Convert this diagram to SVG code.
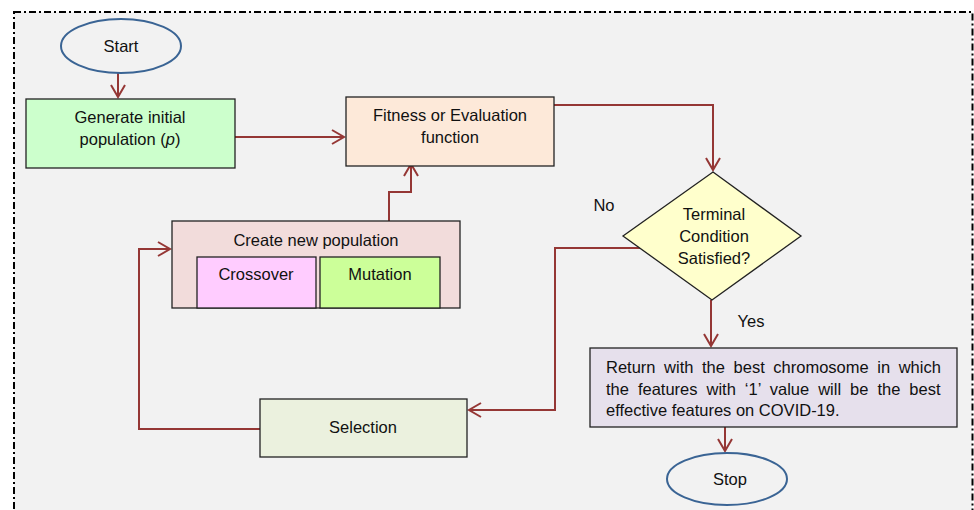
<svg xmlns="http://www.w3.org/2000/svg" width="974" height="510" viewBox="0 0 974 510">
<style>
text{font-family:"Liberation Sans",Arial,sans-serif;font-size:16.5px;fill:#111;text-anchor:middle}
.box{stroke:#222;stroke-width:1.3}
.conn{fill:none;stroke:#953735;stroke-width:2}
.oval{fill:#f2f2f2;stroke:#3a6494;stroke-width:2}
</style>
<defs>
<marker id="arr" markerUnits="userSpaceOnUse" markerWidth="16" markerHeight="18" refX="13" refY="8" orient="auto">
<path d="M1,1 L13,8 L1,15" fill="none" stroke="#953735" stroke-width="2"/>
</marker>
</defs>
<rect x="0" y="0" width="974" height="510" fill="#fff"/>
<rect x="14" y="12" width="958.5" height="520" fill="#f2f2f2" stroke="#000" stroke-width="2" stroke-dasharray="7 3 2 3"/>
<g id="connectors">
<path class="conn" d="M118,73 V97" marker-end="url(#arr)"/>
<path class="conn" d="M235,137 H344" marker-end="url(#arr)"/>
<path class="conn" d="M554,105 H713 V170" marker-end="url(#arr)"/>
<path class="conn" d="M389,221 V192 H411 V164" marker-end="url(#arr)"/>
<path class="conn" d="M640,248 H555 V410 H469" marker-end="url(#arr)"/>
<path class="conn" d="M260,429 H139 V249 H170" marker-end="url(#arr)"/>
<path class="conn" d="M711,300 V346" marker-end="url(#arr)"/>
<path class="conn" d="M725,427 V451" marker-end="url(#arr)"/>
</g>
<g id="start">
<ellipse class="oval" cx="121" cy="46" rx="60" ry="27"/>
<text x="121" y="52">Start</text>
</g>
<g id="generate">
<rect class="box" x="26" y="99" width="209" height="69" fill="#ccffcc"/>
<text x="130" y="123">Generate initial</text>
<text x="130" y="145">population (<tspan font-style="italic">p</tspan>)</text>
</g>
<g id="fitness">
<rect class="box" x="346" y="97" width="208" height="69" fill="#fde9d9"/>
<text x="450" y="121">Fitness or Evaluation</text>
<text x="450" y="143">function</text>
</g>
<g id="decision">
<polygon class="box" points="713,172 801,236 712,300 623,236" fill="#ffffcc"/>
<text x="714" y="220">Terminal</text>
<text x="714" y="242">Condition</text>
<text x="714" y="264">Satisfied?</text>
</g>
<g id="label-no"><text x="604" y="211">No</text></g>
<g id="label-yes"><text x="751" y="327">Yes</text></g>
<g id="create">
<rect class="box" x="172" y="221" width="288" height="87" fill="#f2dcdb"/>
<text x="316" y="246">Create new population</text>
</g>
<g id="crossover">
<rect class="box" x="197" y="257" width="119" height="51" fill="#ffccff"/>
<text x="256" y="280">Crossover</text>
</g>
<g id="mutation">
<rect class="box" x="320" y="257" width="120" height="51" fill="#ccff99"/>
<text x="380" y="280">Mutation</text>
</g>
<g id="selection">
<rect class="box" x="260" y="399" width="207" height="58" fill="#ebf1de"/>
<text x="363" y="433">Selection</text>
</g>
<g id="return">
<rect class="box" x="590" y="348" width="367" height="79" fill="#e6e0ec"/>
<text x="606" y="373" style="text-anchor:start" word-spacing="4">Return with the best chromosome in which</text>
<text x="606" y="395" style="text-anchor:start" word-spacing="4.4">the features with ‘1’ value will be the best</text>
<text x="606" y="416" style="text-anchor:start">effective features on COVID-19.</text>
</g>
<g id="stop">
<ellipse class="oval" cx="727" cy="479" rx="60" ry="26"/>
<text x="730" y="485">Stop</text>
</g>
</svg>
